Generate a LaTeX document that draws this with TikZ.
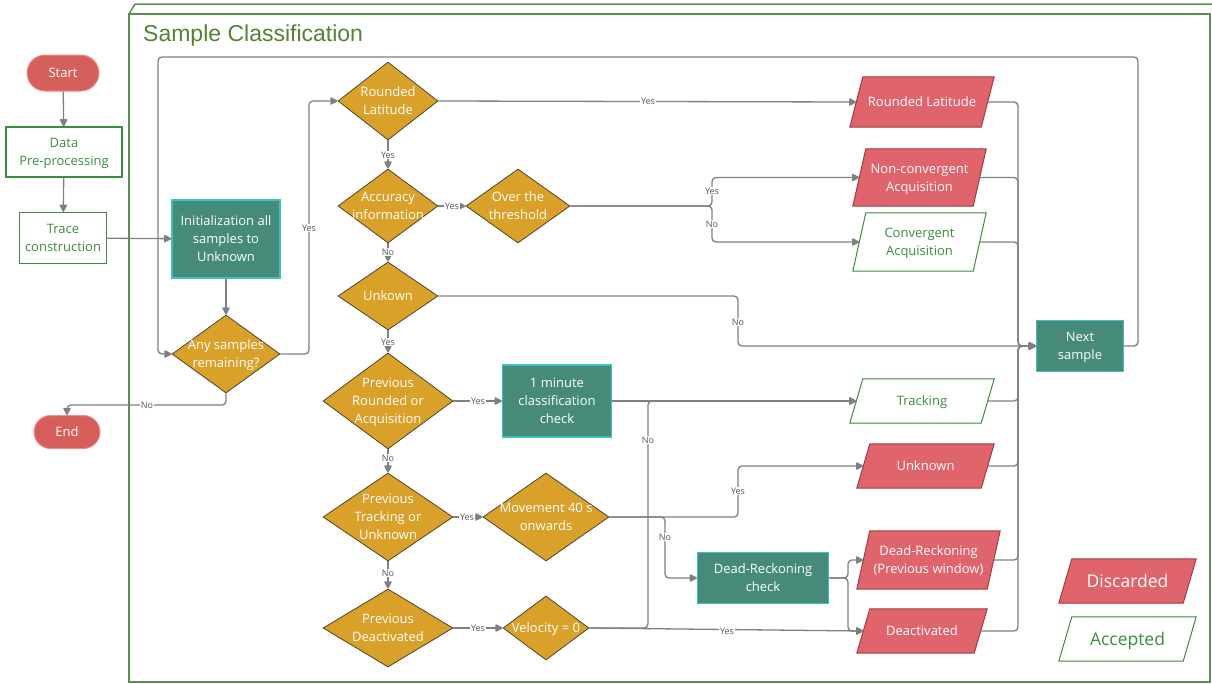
\documentclass[tikz,border=0pt]{standalone}
\usepackage{fontspec}
\setmainfont{Open Sans}
\newfontfamily\titlefont{Liberation Sans}
\usetikzlibrary{arrows.meta,shapes.geometric,shapes.misc,backgrounds}
\definecolor{gold}{HTML}{D9A129}
\definecolor{golddraw}{HTML}{4D4430}
\definecolor{tealc}{HTML}{468B79}
\definecolor{tealdraw}{HTML}{3FC0C0}
\definecolor{redc}{HTML}{E0646C}
\definecolor{reddraw}{HTML}{A03C44}
\definecolor{termc}{HTML}{D65F5B}
\definecolor{termdraw}{HTML}{E8908C}
\definecolor{greenc}{HTML}{3B8C3B}
\definecolor{boxgreen}{HTML}{5A8F52}
\definecolor{titlegreen}{HTML}{548235}
\definecolor{conn}{HTML}{808080}
\definecolor{lblc}{HTML}{555555}
\tikzset{
  base/.style={align=center,inner sep=0pt,text depth=0pt,font=\fontsize{13}{18}\selectfont},
  term/.style={base,rounded rectangle,fill=termc,draw=termdraw,line width=1pt,text=white},
  proc/.style={base,rectangle,draw=greenc,line width=1.2pt,text=greenc},
  tbox/.style={base,rectangle,fill=tealc,draw=tealdraw,line width=1.2pt,text=white},
  dec/.style={base,diamond,inner sep=-30pt,fill=gold,draw=golddraw,line width=0.8pt,text=white},
  disc node/.style={base,rectangle,text=white},
  disc shape/.style={fill=redc,draw=reddraw,line width=1pt},
  acc node/.style={base,rectangle,text=greenc},
  acc shape/.style={fill=white,draw=greenc,line width=1pt},
  cn/.style={draw=conn,line width=1.3pt,rounded corners=4pt,-{Triangle[length=8pt,width=8pt,round=false]}},
  lbl/.style={font=\fontsize{9}{10}\selectfont,text=lblc,fill=white,inner sep=1pt},
}
% #1 kind, #2 name, #3 x, #4 y, #5 total width, #6 height, #7 text, #8 extra node options
\newcommand\parabox[8]{%
  \node[#1 node,minimum width=#5pt-13pt,minimum height=#6pt,#8] (#2) at (#3,#4) {#7};
  \begin{pgfonlayer}{background}
  \path[#1 shape] ([xshift=-6.5pt]#2.south west) -- ([xshift=6.5pt]#2.north west)
     -- ([xshift=6.5pt]#2.north east) -- ([xshift=-6.5pt]#2.south east) -- cycle;
  \end{pgfonlayer}}
\begin{document}
\begin{tikzpicture}[x=1pt,y=-1pt]
\useasboundingbox (0,0) rectangle (1212,683);
% container
\draw[boxgreen,line width=1.5pt] (129,682) -- (129,14) -- (1210,14) -- (1210,682) -- cycle;
\draw[boxgreen,line width=1.5pt] (129,14) -- (135,4) -- (1212,4);
\node[anchor=west,inner sep=0pt,text depth=0pt,text=titlegreen,font=\titlefont\fontsize{23}{26}\selectfont] (title) at (143,33) {Sample Classification};
% left column
\node[term,minimum width=72pt,minimum height=36pt] (start) at (63,73) {Start};
\node[proc,minimum width=116pt,minimum height=50pt] (data) at (64,152) {Data\\Pre-processing};
\node[proc,minimum width=87pt,minimum height=51pt] (trace) at (63,238) {Trace\\construction};
\node[term,minimum width=66pt,minimum height=33pt] (endn) at (67,432) {End};
\node[tbox,minimum width=108pt,minimum height=78pt] (init) at (226,239) {Initialization all\\samples to\\Unknown};
\node[dec,minimum width=108pt,minimum height=78pt] (any) at (226,354) {Any samples\\remaining?};
% decisions
\node[dec,minimum width=100pt,minimum height=78pt] (rld) at (388,101) {Rounded\\Latitude};
\node[dec,minimum width=100pt,minimum height=74pt] (accd) at (388,206) {Accuracy\\information};
\node[dec,minimum width=104pt,minimum height=74pt] (over) at (518,206) {Over the\\threshold};
\node[dec,minimum width=100pt,minimum height=68pt] (unk) at (388,296) {Unkown};
\node[dec,minimum width=130pt,minimum height=96pt] (pra) at (388,401) {Previous\\Rounded or\\Acquisition};
\node[dec,minimum width=130pt,minimum height=88pt] (ptu) at (388,517) {Previous\\Tracking or\\Unknown};
\node[dec,minimum width=130pt,minimum height=78pt] (pde) at (388,628) {Previous\\Deactivated};
\node[dec,minimum width=126pt,minimum height=88pt] (move) at (546,517) {Movement 40 s\\onwards};
\node[dec,minimum width=86pt,minimum height=64pt] (vel) at (546,628) {Velocity = 0};
\node[tbox,minimum width=109pt,minimum height=72pt] (onemin) at (557,401) {1 minute\\classification\\check};
\node[tbox,minimum width=131pt,minimum height=51pt] (drc) at (763,578) {Dead-Reckoning\\check};
\node[tbox,minimum width=87pt,minimum height=51pt] (next) at (1080,346) {Next\\sample};
% outputs
\parabox{disc}{rlp}{922}{102}{144}{50}{Rounded Latitude}{}
\parabox{disc}{ncp}{919.5}{177.5}{133}{57}{Non-convergent\\Acquisition}{}
\parabox{acc}{cvp}{919.5}{242}{133}{58}{Convergent\\Acquisition}{}
\parabox{acc}{trp}{922}{401}{144}{44}{Tracking}{}
\parabox{disc}{unp}{925.5}{466}{137}{44}{Unknown}{}
\parabox{disc}{drp}{928.5}{560}{143}{58}{Dead-Reckoning\\(Previous window)}{}
\parabox{disc}{dep}{922}{631}{130}{44}{Deactivated}{}
% legend
\parabox{disc}{legd}{1127.5}{581}{137}{44}{Discarded}{font=\fontsize{17.5}{20}\selectfont}
\parabox{acc}{lega}{1127.5}{639}{137}{44}{Accepted}{font=\fontsize{17.5}{20}\selectfont}
% coordinates
\coordinate (bus) at (1018,346);
% connectors
\draw[cn] (start) -- (data);
\draw[cn] (data) -- (trace);
\draw[cn] (trace) -- (init);
\draw[cn] (init) -- (any);
\draw[cn] (any.south) |- (67,405) -- (endn.north);
\draw[cn] (any.east) -| (309,101) -- (rld.west);
\draw[cn] (next.east) -| (1138,57) -| (158,354) -- (any.west);
\draw[cn] (rld.east) -- (rlp.west);
\draw[cn] (rld) -- (accd);
\draw[cn] (accd) -- (over);
\draw[cn] (accd) -- (unk);
\draw[cn] (over.east) -| (712,190) |- (ncp.west);
\draw[cn] (over.east) -| (712,222) |- (cvp.west);
\draw[cn] (unk.east) -| (738,320) |- (next.west);
\draw[cn] (unk) -- (pra);
\draw[cn] (pra) -- (onemin);
\draw[cn] (pra) -- (ptu);
\draw[cn] (onemin.east) -- (trp.west);
\draw[cn] (ptu) -- (move);
\draw[cn] (ptu) -- (pde);
\draw[cn] (move.east) -| (738,490) |- (unp.west);
\draw[cn] (move.east) -| (665,540) |- (drc.west);
\draw[cn] (pde) -- (vel);
\draw[cn] (vel.east) -| (648,440) |- (trp.west);
\draw[cn] (vel.east) -- (dep.west);
\draw[cn] (drc.east) -| (848,570) |- (drp.west);
\draw[cn] (drc.east) -| (848,600) |- (dep.west);
\foreach \n in {rlp,ncp,cvp,trp,unp,drp,dep}
  \draw[cn] (\n.east) -| (bus) -- (next.west);
% labels
\node[lbl] (l1) at (147,405) {No};
\node[lbl] (l2) at (309,228) {Yes};
\node[lbl] (l3) at (648,101) {Yes};
\node[lbl] (l4) at (388,155) {Yes};
\node[lbl] (l5) at (452,206) {Yes};
\node[lbl] (l6) at (388,252) {No};
\node[lbl] (l7) at (712,191) {Yes};
\node[lbl] (l8) at (712,224) {No};
\node[lbl] (l9) at (738,322) {No};
\node[lbl] (l10) at (388,342) {Yes};
\node[lbl] (l11) at (478,401) {Yes};
\node[lbl] (l12) at (388,458) {No};
\node[lbl] (l13) at (467,517) {Yes};
\node[lbl] (l14) at (388,573) {No};
\node[lbl] (l15) at (738,491) {Yes};
\node[lbl] (l16) at (665,537) {No};
\node[lbl] (l17) at (478,628) {Yes};
\node[lbl] (l18) at (648,440) {No};
\node[lbl] (l19) at (727,631) {Yes};
\end{tikzpicture}
\end{document}
